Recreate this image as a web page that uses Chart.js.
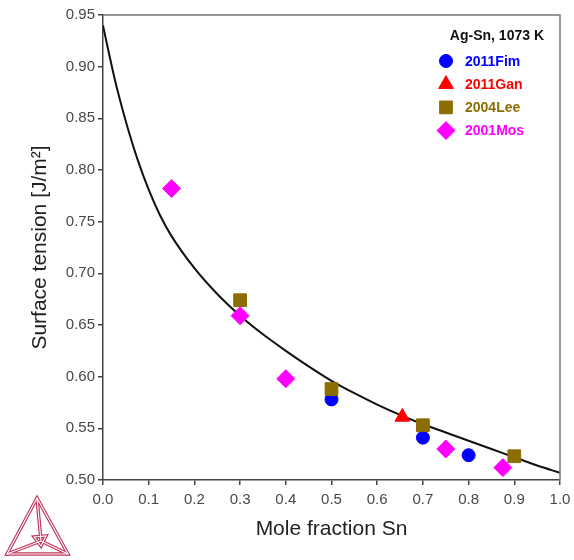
<!DOCTYPE html>
<html>
<head>
<meta charset="utf-8">
<title>Ag-Sn surface tension</title>
<script src="https://cdn.jsdelivr.net/npm/chart.js@4/dist/chart.umd.min.js"></script>
<style>
  body { margin: 0; background: #fff; }
  #wrap { position: relative; width: 574px; height: 560px; }
  #logo { position: absolute; left: 0; top: 490px; }
</style>
</head>
<body>
<div id="wrap">
  <canvas id="chart"></canvas>
  <!-- Thermo-Calc style logo, bottom left -->
  <svg id="logo" width="75" height="70" viewBox="0 0 75 70">
    <g fill="none" stroke-linejoin="miter" stroke-linecap="round">
      <g stroke="#c0345a" stroke-width="3.4">
        <path d="M37 8 L7 64 L68 64 Z"/>
        <path d="M37 8 L41 51 M7 64 L41 51 M68 64 L41 51"/>
        <path d="M34 47 L46 46 L41 56 Z"/>
      </g>
      <g stroke="#fff" stroke-width="1.1">
        <path d="M37 8 L7 64 L68 64 Z"/>
        <path d="M37 8 L41 51 M7 64 L41 51 M68 64 L41 51"/>
        <path d="M34 47 L46 46 L41 56 Z"/>
      </g>
    </g>
  </svg>
</div>
<script>
// Calculated curve
const curveX = [0, 0.01, 0.02, 0.03, 0.05, 0.075, 0.1, 0.125, 0.15, 0.2, 0.25, 0.3, 0.35, 0.4, 0.45, 0.5, 0.55, 0.6, 0.65, 0.7, 0.75, 0.8, 0.85, 0.9, 0.95, 1.0];
const curveY = [0.940, 0.919, 0.899, 0.880, 0.847, 0.811, 0.781, 0.756, 0.736, 0.705, 0.680, 0.659, 0.641, 0.625, 0.610, 0.596, 0.584, 0.573, 0.563, 0.554, 0.546, 0.538, 0.530, 0.522, 0.514, 0.507];

// Experimental points
const fimX = [0.5, 0.7, 0.8];
const fimY = [0.578, 0.541, 0.524];
const ganX = [0.655];
const ganY = [0.561];
const leeX = [0.3, 0.5, 0.7, 0.9];
const leeY = [0.674, 0.588, 0.553, 0.523];
const mosX = [0.15, 0.3, 0.4, 0.75, 0.875];
const mosY = [0.782, 0.659, 0.598, 0.530, 0.512];

const seriesNames = ["2011Fim", "2011Gan", "2004Lee", "2001Mos"];
const legendTitle = "Ag-Sn, 1073 K";
const xTicks = [0, 0.1, 0.2, 0.3, 0.4, 0.5, 0.6, 0.7, 0.8, 0.9, 1.0];
const yTicks = [0.50, 0.55, 0.60, 0.65, 0.70, 0.75, 0.80, 0.85, 0.90, 0.95];

const FONT = "'Liberation Sans', Arial, sans-serif";

function pts(xs, ys) {
  return xs.map((x, i) => ({ x: x, y: ys[i] }));
}

function markerSet(name, xs, ys, color, style, radius, order) {
  return {
    label: name,
    data: pts(xs, ys),
    pointStyle: style,
    pointRadius: radius,
    pointHoverRadius: radius,
    backgroundColor: color,
    borderColor: color,
    borderWidth: 1,
    showLine: false,
    order: order,
  };
}

// Box round the plot (top + right sides)
const framePlugin = {
  id: "frame",
  afterDraw(chart) {
    const { ctx, chartArea: a } = chart;
    ctx.save();
    ctx.strokeStyle = "#777";
    ctx.lineWidth = 1.5;
    ctx.beginPath();
    ctx.moveTo(a.left, a.top);
    ctx.lineTo(a.right, a.top);
    ctx.lineTo(a.right, a.bottom);
    ctx.stroke();
    ctx.restore();
  },
};

// Legend drawn inside the chart area, top right
const legendPlugin = {
  id: "insideLegend",
  afterDraw(chart) {
    const { ctx, chartArea: a } = chart;
    ctx.save();
    ctx.font = "bold 14px " + FONT;
    ctx.textBaseline = "middle";
    ctx.textAlign = "right";
    ctx.fillStyle = "#111";
    ctx.fillText(legendTitle, a.right - 16, a.top + 21);

    ctx.textAlign = "left";
    chart.data.datasets
      .filter((d) => seriesNames.includes(d.label))
      .sort((p, q) => seriesNames.indexOf(p.label) - seriesNames.indexOf(q.label))
      .forEach((ds, i) => {
        const y = a.top + 46 + i * 23.2;
        ctx.fillStyle = ds.backgroundColor;
        ctx.strokeStyle = ds.borderColor;
        ctx.lineWidth = 1;
        Chart.helpers.drawPoint(ctx, {
          pointStyle: ds.pointStyle,
          radius: ds.pointRadius,
          rotation: 0,
          borderWidth: 1,
        }, a.right - 114, y);
        ctx.fillStyle = ds.backgroundColor;
        ctx.fillText(ds.label, a.right - 95, y + 1);
      });
    ctx.restore();
  },
};

const ctx = document.getElementById("chart").getContext("2d");
new Chart(ctx, {
  type: "scatter",
  data: {
    datasets: [
      {
        label: "calc",
        data: pts(curveX, curveY),
        showLine: true,
        borderColor: "#111",
        borderWidth: 2,
        pointRadius: 0,
        pointHoverRadius: 0,
        cubicInterpolationMode: "monotone",
        fill: false,
        order: 5,
      },
      markerSet(seriesNames[0], fimX, fimY, "#0000ff", "circle", 6.5, 4),
      markerSet(seriesNames[1], ganX, ganY, "#ff0000", "triangle", 8.5, 3),
      markerSet(seriesNames[2], leeX, leeY, "#8c6d00", "rect", 9, 2),
      markerSet(seriesNames[3], mosX, mosY, "#ff00ff", "rectRot", 9, 1),
    ],
  },
  options: {
    responsive: true,
    maintainAspectRatio: false,
    animation: false,
    layout: { padding: { top: 15, right: 14, left: 0, bottom: 0 } },
    plugins: {
      legend: { display: false },
      tooltip: { enabled: false },
    },
    scales: {
      x: {
        type: "linear",
        min: 0,
        max: 1,
        afterBuildTicks: (s) => { s.ticks = xTicks.map((v) => ({ value: v })); },
        afterFit: (s) => {
          s.height = 80;
          s.paddingLeft = 0;
          s.paddingRight = 0;
        },
        ticks: {
          color: "#484848",
          font: { family: FONT, size: 15 },
          padding: 6,
          maxRotation: 0,
          callback: (v) => v.toFixed(1),
        },
        grid: { drawOnChartArea: false, tickLength: 5, color: "#444", lineWidth: 1.5 },
        border: { color: "#444", width: 1.5 },
        title: {
          display: true,
          text: "Mole fraction Sn",
          color: "#222",
          font: { family: FONT, size: 21 },
          padding: { top: 4, bottom: 18 },
        },
      },
      y: {
        type: "linear",
        min: 0.5,
        max: 0.95,
        afterBuildTicks: (s) => { s.ticks = yTicks.map((v) => ({ value: v })); },
        afterFit: (s) => { s.width = 103; },
        ticks: {
          color: "#484848",
          font: { family: FONT, size: 15 },
          padding: 3,
          callback: (v) => v.toFixed(2),
        },
        grid: { drawOnChartArea: false, tickLength: 5, color: "#444", lineWidth: 1.5 },
        border: { color: "#444", width: 1.5 },
        title: {
          display: true,
          text: "Surface tension [J/m²]",
          color: "#222",
          font: { family: FONT, size: 21 },
          padding: { top: 28, bottom: 4 },
        },
      },
    },
  },
  plugins: [framePlugin, legendPlugin],
});
</script>
</body>
</html>
